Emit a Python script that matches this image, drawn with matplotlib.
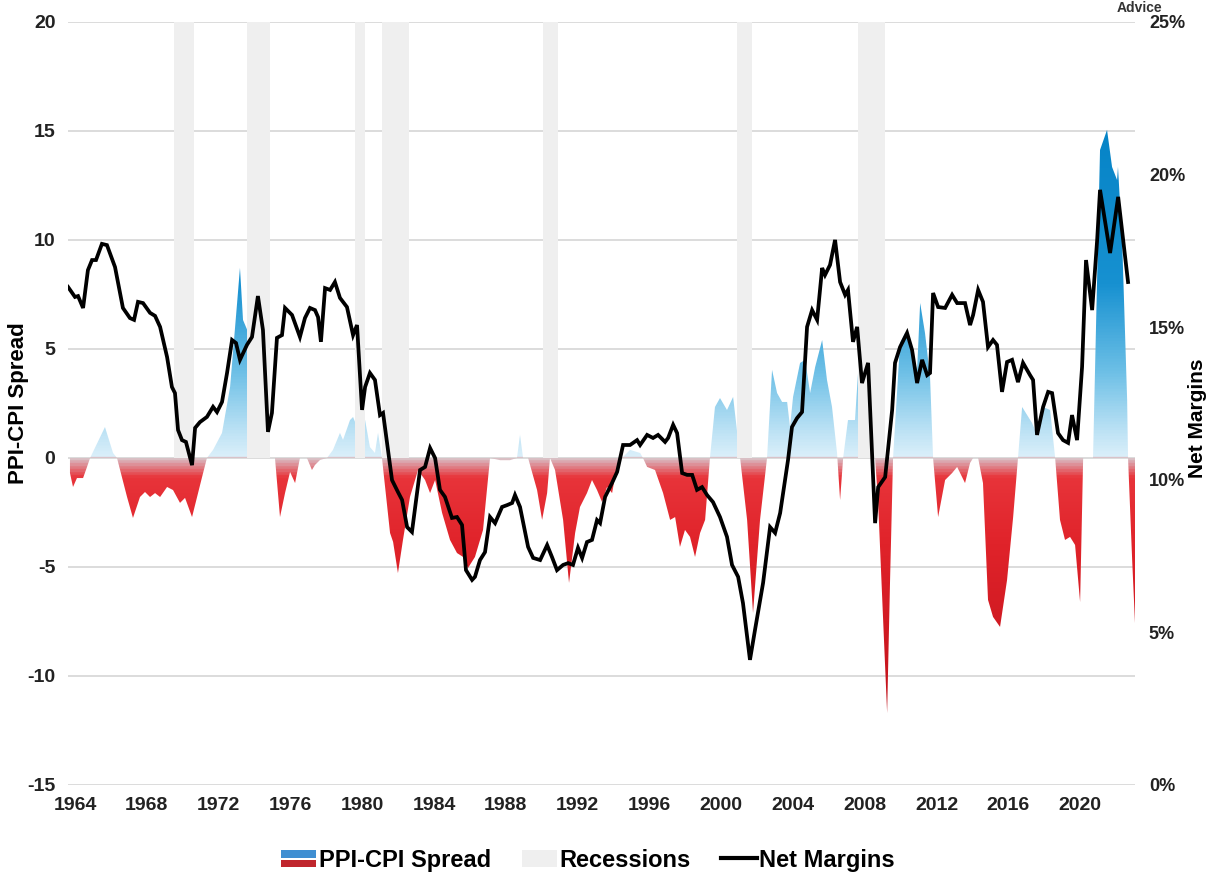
import numpy as np
import matplotlib.pyplot as plt
from matplotlib.colors import LinearSegmentedColormap, Normalize
from matplotlib.patches import Rectangle, PathPatch
from matplotlib.path import Path
from matplotlib.legend_handler import HandlerBase
from matplotlib.lines import Line2D

# PPI-CPI spread (left axis)
spread_years = [1963.72, 1963.89, 1964.11, 1964.45, 1964.67, 1964.84, 1965.67, 1966.12, 1966.34,
                1966.90, 1967.23, 1967.62, 1967.90, 1968.18, 1968.46, 1968.74, 1969.13, 1969.46,
                1969.85, 1970.13, 1970.52, 1970.80, 1971.08, 1971.35, 1971.69, 1972.19, 1972.64,
                1973.03, 1973.19, 1973.36, 1973.58, 1974.03, 1974.47, 1974.86, 1975.14, 1975.42,
                1975.70, 1975.98, 1976.26, 1976.53, 1976.92, 1977.20, 1977.37, 1977.65, 1978.04,
                1978.37, 1978.76, 1978.93, 1979.32, 1979.49, 1979.77, 1980.16, 1980.43, 1980.71,
                1980.88, 1981.10, 1981.55, 1981.72, 1981.99, 1982.27, 1982.66, 1983.11, 1983.50,
                1983.78, 1984.06, 1984.45, 1984.89, 1985.28, 1985.62, 1985.89, 1986.28, 1986.73,
                1987.12, 1987.68, 1988.23, 1988.62, 1988.79, 1988.96, 1989.24, 1989.74, 1990.02,
                1990.30, 1990.46, 1990.74, 1991.19, 1991.52, 1991.86, 1992.13, 1992.52, 1992.80,
                1993.08, 1993.36, 1993.64, 1993.92, 1994.08, 1994.47, 1994.92, 1995.48, 1995.64,
                1995.87, 1996.31, 1996.76, 1997.15, 1997.43, 1997.70, 1997.98, 1998.26, 1998.54,
                1998.82, 1999.10, 1999.37, 1999.65, 1999.93, 2000.32, 2000.66, 2001.05, 2001.44,
                2001.77, 2002.16, 2002.55, 2002.83, 2003.11, 2003.39, 2003.67, 2003.83, 2004.00,
                2004.39, 2004.67, 2004.95, 2005.23, 2005.62, 2005.89, 2006.17, 2006.45, 2006.62,
                2006.79, 2007.06, 2007.45, 2007.62, 2008.01, 2008.40, 2008.57, 2008.74, 2009.01,
                2009.24, 2009.40, 2009.57, 2009.96, 2010.24, 2010.63, 2010.91, 2011.08, 2011.35,
                2011.63, 2011.80, 2012.08, 2012.47, 2012.86, 2013.14, 2013.58, 2013.86, 2014.03,
                2014.31, 2014.58, 2014.86, 2015.14, 2015.53, 2015.92, 2016.26, 2016.53, 2016.76,
                2017.31, 2017.65, 2017.93, 2018.32, 2018.60, 2018.87, 2019.15, 2019.43, 2019.71,
                2019.99, 2020.16, 2020.71, 2021.10, 2021.49, 2021.77, 2022.05, 2022.10, 2022.33,
                2022.61, 2022.66, 2022.89, 2023.05]
spread_vals = [-0.69, -1.33, -0.92, -0.92, -0.41, 0.0, 1.42, 0.23, 0.0,
               -1.79, -2.75, -1.79, -1.56, -1.79, -1.61, -1.79, -1.33, -1.47,
               -2.06, -1.83, -2.71, -1.79, -0.87, 0.0, 0.37, 1.15, 3.26,
               7.11, 8.72, 6.33, 5.9, 3.6, 1.3, 0.0, 0.0, -2.71,
               -1.61, -0.64, -1.15, 0.0, 0.0, -0.55, -0.32, -0.09, 0.0,
               0.37, 1.15, 0.83, 1.74, 1.88, 1.3, 1.74, 0.50, 0.23,
               1.15, 0.0, -3.44, -3.85, -5.28, -3.76, -1.79, -0.55, -1.01,
               -1.61, -1.01, -2.52, -3.76, -4.36, -4.54, -5.05, -4.54, -3.30,
               0.0, -0.1, -0.1, 0.0, 1.06, 0.0, 0.0, -1.47, -2.84,
               -1.61, 0.0, -0.55, -2.84, -5.73, -3.44, -2.25, -1.61, -1.01,
               -1.47, -2.02, -1.33, -1.61, -0.87, 0.0, 0.37, 0.23, 0.0,
               -0.41, -0.55, -1.61, -2.84, -2.71, -4.08, -3.30, -3.62, -4.54,
               -3.44, -2.84, 0.0, 2.34, 2.75, 2.20, 2.80, 0.0, -2.84,
               -7.11, -2.84, 0.0, 4.04, 2.98, 2.57, 2.57, 1.42, 2.80,
               4.36, 4.50, 2.98, 4.17, 5.41, 3.58, 2.34, 0.23, -1.93,
               0.0, 1.74, 1.74, 3.90, 3.6, 0.8, 0.0, -2.06, -7.29,
               -11.70, -5.73, 0.0, 5.28, 5.73, 4.82, 4.04, 7.11, 5.73,
               3.72, 0.0, -2.71, -1.01, -0.69, -0.41, -1.15, -0.23, 0.0,
               0.0, -1.15, -6.51, -7.29, -7.75, -5.60, -2.71, 0.0, 2.34,
               1.61, 0.96, 2.34, 2.20, 0.0, -2.84, -3.76, -3.62, -3.99,
               -6.61, 0.0, 0.0, 14.13, 15.05, 13.35, 12.75, 13.35, 10.0,
               2.66, 0.0, -4.68, -7.61]

# Net margins (right axis, %)
margin_years = [1963.61, 1964.00, 1964.17, 1964.45, 1964.72, 1964.95, 1965.17, 1965.50, 1965.78,
                1966.23, 1966.67, 1967.06, 1967.29, 1967.51, 1967.79, 1968.18, 1968.46, 1968.74,
                1969.13, 1969.40, 1969.57, 1969.74, 1969.96, 1970.18, 1970.52, 1970.69, 1970.96,
                1971.35, 1971.69, 1971.91, 1972.19, 1972.47, 1972.75, 1972.97, 1973.19, 1973.58,
                1973.86, 1974.19, 1974.47, 1974.75, 1974.97, 1975.25, 1975.53, 1975.70, 1976.09,
                1976.53, 1976.81, 1977.09, 1977.37, 1977.54, 1977.70, 1977.93, 1978.21, 1978.48,
                1978.76, 1979.15, 1979.49, 1979.71, 1979.99, 1980.16, 1980.43, 1980.71, 1980.99,
                1981.16, 1981.66, 1981.99, 1982.22, 1982.50, 1982.77, 1983.22, 1983.50, 1983.78,
                1984.06, 1984.33, 1984.61, 1985.00, 1985.28, 1985.56, 1985.78, 1986.12, 1986.28,
                1986.56, 1986.84, 1987.12, 1987.40, 1987.79, 1988.07, 1988.35, 1988.51, 1988.79,
                1989.24, 1989.52, 1989.91, 1990.30, 1990.57, 1990.85, 1991.19, 1991.47, 1991.74,
                1992.02, 1992.25, 1992.52, 1992.80, 1993.08, 1993.25, 1993.53, 1993.92, 1994.20,
                1994.53, 1994.92, 1995.31, 1995.48, 1995.87, 1996.20, 1996.48, 1996.87, 1997.04,
                1997.32, 1997.54, 1997.82, 1998.10, 1998.38, 1998.65, 1998.93, 1999.21, 1999.54,
                1999.93, 2000.32, 2000.60, 2000.94, 2001.21, 2001.60, 2001.88, 2002.33, 2002.72,
                2003.00, 2003.28, 2003.72, 2003.94, 2004.22, 2004.50, 2004.78, 2005.06, 2005.34,
                2005.62, 2005.78, 2006.06, 2006.34, 2006.62, 2006.90, 2007.06, 2007.34, 2007.57,
                2007.84, 2008.18, 2008.57, 2008.74, 2009.13, 2009.52, 2009.68, 2009.96, 2010.35,
                2010.63, 2010.91, 2011.19, 2011.47, 2011.63, 2011.80, 2012.08, 2012.47, 2012.86,
                2013.14, 2013.58, 2013.86, 2014.03, 2014.31, 2014.58, 2014.86, 2015.14, 2015.36,
                2015.64, 2015.92, 2016.20, 2016.53, 2016.81, 2017.20, 2017.37, 2017.59, 2017.93,
                2018.21, 2018.43, 2018.76, 2019.04, 2019.32, 2019.54, 2019.82, 2020.10, 2020.32,
                2020.66, 2020.94, 2021.10, 2021.66, 2022.11, 2022.66]
margin_vals = [16.32, 15.99, 16.02, 15.63, 16.87, 17.20, 17.20, 17.73, 17.69,
               16.97, 15.63, 15.30, 15.24, 15.83, 15.79, 15.47, 15.37, 15.01,
               14.02, 13.04, 12.84, 11.63, 11.30, 11.24, 10.48, 11.70, 11.89,
               12.06, 12.39, 12.22, 12.55, 13.50, 14.58, 14.48, 13.93, 14.42,
               14.68, 16.02, 14.91, 11.57, 12.19, 14.65, 14.74, 15.63, 15.40,
               14.68, 15.30, 15.63, 15.56, 15.33, 14.52, 16.28, 16.22, 16.48,
               15.96, 15.66, 14.74, 15.07, 12.29, 13.04, 13.50, 13.27, 12.12,
               12.19, 9.99, 9.60, 9.34, 8.45, 8.29, 10.32, 10.42, 11.04,
               10.71, 9.67, 9.44, 8.75, 8.78, 8.52, 7.04, 6.72, 6.82,
               7.37, 7.63, 8.78, 8.58, 9.11, 9.17, 9.24, 9.50, 9.11,
               7.80, 7.44, 7.37, 7.86, 7.47, 7.04, 7.21, 7.27, 7.21,
               7.77, 7.44, 7.96, 8.03, 8.68, 8.58, 9.44, 9.90, 10.26,
               11.14, 11.14, 11.30, 11.14, 11.47, 11.37, 11.47, 11.24, 11.37,
               11.80, 11.53, 10.22, 10.16, 10.16, 9.67, 9.76, 9.50, 9.27,
               8.78, 8.13, 7.21, 6.82, 5.96, 4.10, 5.08, 6.62, 8.45,
               8.26, 8.91, 10.65, 11.73, 12.02, 12.22, 15.01, 15.56, 15.24,
               16.94, 16.71, 17.04, 17.86, 16.48, 16.06, 16.22, 14.52, 15.01,
               13.17, 13.83, 8.58, 9.76, 10.09, 12.29, 13.83, 14.35, 14.81,
               14.25, 13.17, 13.93, 13.43, 13.50, 16.12, 15.66, 15.63, 16.06,
               15.79, 15.79, 15.07, 15.40, 16.22, 15.83, 14.35, 14.58, 14.42,
               12.88, 13.86, 13.93, 13.20, 13.83, 13.43, 13.27, 11.47, 12.39,
               12.88, 12.84, 11.53, 11.30, 11.21, 12.12, 11.30, 13.70, 17.20,
               15.56, 17.86, 19.50, 17.43, 19.27, 16.48]

# Recessions
rec_start = [1969.52, 1973.58, 1979.60, 1981.10, 1990.07, 2000.88, 2007.62]
rec_end = [1970.63, 1974.86, 1980.16, 1982.61, 1990.91, 2001.72, 2009.13]

left_ticks = [-15, -10, -5, 0, 5, 10, 15, 20]
right_ticks = [0, 5, 10, 15, 20, 25]
right_labels = ['0%', '5%', '10%', '15%', '20%', '25%']
year_ticks = list(range(1964, 2021, 4))

narrow = ['Liberation Sans Narrow', 'Liberation Sans', 'DejaVu Sans']
wide = ['Liberation Sans', 'DejaVu Sans']

fig = plt.figure(figsize=(12.12, 8.76), dpi=100)
ax = fig.add_axes([0.0561, 0.1039, 0.8804, 0.8710])
x0, x1 = 1963.61, 2023.05

# spread area filled with a vertical gradient
poly = ax.fill_between(spread_years, spread_vals, 0, color='none', lw=0)
clip_path = Path.make_compound_path(*poly.get_paths())
clip_patch = PathPatch(clip_path, transform=ax.transData, fc='none', ec='none')
ax.add_patch(clip_patch)

stops = [(-15, '#b00f18'), (-11, '#c4131c'), (-4, '#e0232a'), (-0.9, '#e8343a'),
         (-0.25, '#dc9aa2'), (0, '#d9c6cb'), (0.001, '#dcf0fa'), (1, '#c3e5f6'),
         (4, '#6cbfe6'), (8, '#1791d1'), (15, '#0684c7'), (20, '#0080c4')]
cmap = LinearSegmentedColormap.from_list('spread', [((v + 15) / 35, c) for v, c in stops])
grad = np.linspace(-15, 20, 1400).reshape(-1, 1)
img = ax.imshow(grad, cmap=cmap, norm=Normalize(-15, 20), extent=[x0, x1, -15, 20],
                origin='lower', aspect='auto', interpolation='bilinear', zorder=1)
img.set_clip_path(clip_patch)

# recession bars cover the positive half only
ax.bar(rec_start, 20, width=np.subtract(rec_end, rec_start), align='edge',
       color='#efefef', lw=0, zorder=2)

ax.set_xlim(x0, x1)
ax.set_ylim(-15, 20)
ax.set_yticks(left_ticks)
ax.set_yticklabels([str(t) for t in left_ticks])
ax.set_xticks(year_ticks)
ax.grid(axis='y', color='#d9d9d9', lw=1.3)
ax.set_axisbelow(True)
for s in ax.spines.values():
    s.set_visible(False)
ax.tick_params(length=0, labelsize=14, pad=9)
for lab in ax.get_xticklabels() + ax.get_yticklabels():
    lab.set_family(narrow)
    lab.set_fontweight('bold')
    lab.set_color('#222222')
ax.set_ylabel('PPI-CPI Spread', family=wide, fontweight='bold', fontsize=16)
ax.yaxis.set_label_coords(-0.037, 0.5)

ax2 = ax.twinx()
ax2.plot(margin_years, margin_vals, color='black', lw=2.7, solid_joinstyle='miter', zorder=5)
ax2.set_ylim(0, 25)
ax2.set_xlim(x0, x1)
ax2.set_yticks(right_ticks)
ax2.set_yticklabels(right_labels)
for s in ax2.spines.values():
    s.set_visible(False)
ax2.tick_params(length=0, labelsize=13, pad=10)
for lab in ax2.get_yticklabels():
    lab.set_family(narrow)
    lab.set_fontweight('bold')
    lab.set_color('#222222')
ax2.set_ylabel('Net Margins', family=wide, fontweight='bold', fontsize=15)
ax2.yaxis.set_label_coords(1.05, 0.48)


class SpreadHandler(HandlerBase):
    def create_artists(self, legend, orig, xd, yd, w, h, fontsize, trans):
        top = Rectangle((xd, yd + h * 0.55), w, h * 0.45, fc='#3f8fd2', ec='none', transform=trans)
        mid = Rectangle((xd, yd + h * 0.42), w, h * 0.13, fc='#ffffff', ec='none', transform=trans)
        bot = Rectangle((xd, yd), w, h * 0.42, fc='#c0262d', ec='none', transform=trans)
        return [top, mid, bot]


h_spread = Rectangle((0, 0), 1, 1)
h_rec = Rectangle((0, 0), 1, 1, fc='#efefef', ec='none')
h_line = Line2D([0], [0], color='black', lw=3)
fig.legend([h_spread, h_rec, h_line], ['PPI-CPI Spread', 'Recessions', 'Net Margins'],
           handler_map={h_spread: SpreadHandler()}, loc='center', bbox_to_anchor=(0.485, 0.018),
           ncol=3, frameon=False, prop={'family': narrow, 'weight': 'bold', 'size': 17},
           handlelength=1.5, handletextpad=0.1, columnspacing=1.3)

fig.text(0.94, 0.999, 'Advice', ha='center', va='top', fontsize=10, fontweight='bold',
         family=narrow, color='#333333')

fig.savefig('out.png', dpi=100, facecolor='white')
